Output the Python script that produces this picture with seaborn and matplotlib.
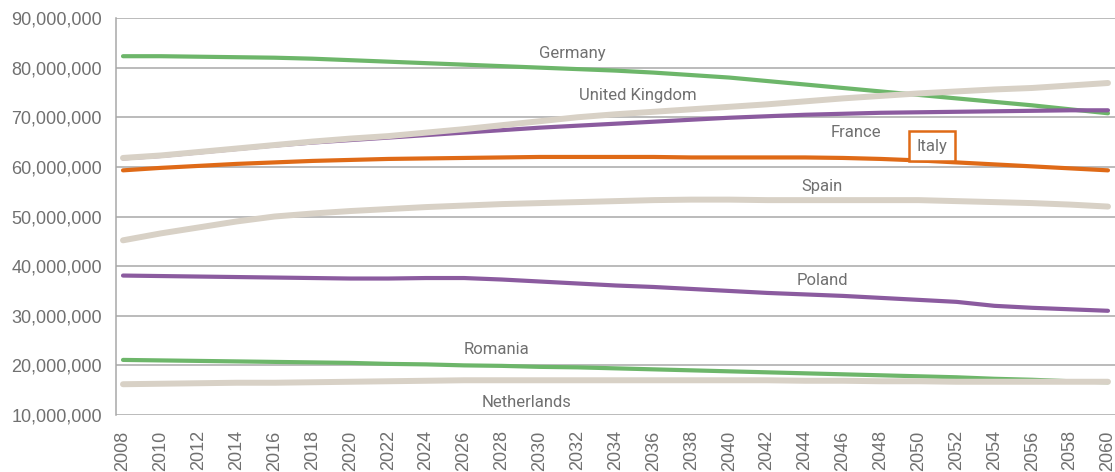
import matplotlib
matplotlib.use("Agg")
import matplotlib.pyplot as plt
import matplotlib.ticker as mticker
from matplotlib import font_manager as fm
import numpy as np
import pandas as pd
import seaborn as sns

# Population projections (millions), every second year 2008-2060
years = list(range(2008, 2061, 2))

germany = [82.3, 82.3, 82.2, 82.1, 82.0, 81.8, 81.5, 81.2, 80.9, 80.6, 80.3, 80.0, 79.7, 79.4,
           79.0, 78.5, 78.0, 77.3, 76.6, 75.9, 75.2, 74.5, 73.8, 73.1, 72.4, 71.6, 70.8]
france = [61.7, 62.2, 62.9, 63.6, 64.3, 64.9, 65.4, 65.9, 66.4, 66.9, 67.4, 67.9, 68.3, 68.7,
          69.1, 69.5, 69.9, 70.2, 70.5, 70.7, 70.9, 71.0, 71.1, 71.2, 71.3, 71.4, 71.4]
italy = [59.3, 59.8, 60.2, 60.6, 60.9, 61.2, 61.4, 61.6, 61.7, 61.8, 61.9, 62.0, 62.0, 62.0,
         62.0, 61.9, 61.9, 61.9, 61.9, 61.8, 61.6, 61.3, 60.9, 60.5, 60.1, 59.7, 59.3]
poland = [38.1, 38.0, 37.9, 37.8, 37.7, 37.6, 37.5, 37.5, 37.6, 37.6, 37.3, 36.9, 36.5, 36.1,
          35.8, 35.4, 35.0, 34.6, 34.3, 34.0, 33.6, 33.2, 32.8, 32.0, 31.6, 31.3, 31.0]
romania = [21.1, 21.0, 20.9, 20.8, 20.7, 20.6, 20.5, 20.3, 20.2, 20.0, 19.9, 19.7, 19.6, 19.4,
           19.2, 19.0, 18.8, 18.6, 18.4, 18.2, 18.0, 17.8, 17.6, 17.3, 17.1, 16.8, 16.6]
united_kingdom = [61.8, 62.3, 63.0, 63.7, 64.4, 65.1, 65.7, 66.2, 66.9, 67.6, 68.4, 69.2, 70.0, 70.6,
                  71.1, 71.6, 72.1, 72.6, 73.2, 73.8, 74.3, 74.8, 75.2, 75.6, 75.9, 76.4, 76.9]
spain = [45.2, 46.6, 47.8, 49.0, 50.0, 50.6, 51.1, 51.5, 51.9, 52.2, 52.5, 52.7, 52.9, 53.1,
         53.3, 53.4, 53.4, 53.3, 53.3, 53.3, 53.3, 53.3, 53.1, 52.9, 52.7, 52.4, 52.0]
netherlands = [16.2, 16.3, 16.4, 16.5, 16.5, 16.6, 16.7, 16.8, 16.9, 17.0, 17.0, 17.0, 17.0, 17.0,
               17.0, 17.0, 17.0, 17.0, 16.9, 16.9, 16.8, 16.8, 16.7, 16.7, 16.7, 16.7, 16.7]

countries = ["Germany", "France", "Italy", "Poland", "Romania",
             "United Kingdom", "Spain", "Netherlands"]
series = [germany, france, italy, poland, romania, united_kingdom, spain, netherlands]

GREEN = "#6db66a"
PURPLE = "#8b5b9f"
ORANGE = "#df6a17"
BEIGE = "#d8d1c6"
palette = {"Germany": GREEN, "France": PURPLE, "Italy": ORANGE, "Poland": PURPLE,
           "Romania": GREEN, "United Kingdom": BEIGE, "Spain": BEIGE, "Netherlands": BEIGE}
widths = {GREEN: 3.0, PURPLE: 3.0, ORANGE: 3.0, BEIGE: 4.3}

df = pd.DataFrame({
    "year": np.tile(years, len(countries)),
    "country": np.repeat(countries, len(years)),
    "population": np.concatenate([np.array(s) * 1e6 for s in series]),
})

sns.set_theme(style="white")
available = {f.name for f in fm.fontManager.ttflist}
tick_font = "Liberation Sans" if "Liberation Sans" in available else "DejaVu Sans"
label_font = next((f for f in ["Liberation Sans Narrow", "Roboto", "Noto Sans"] if f in available),
                  "DejaVu Sans")
plt.rcParams["font.family"] = [tick_font, "DejaVu Sans"]

TEXT = "#707070"
GRID = "#a8a8a8"

fig = plt.figure(figsize=(11.15, 4.72), dpi=100)
ax = fig.add_axes([116 / 1115, 1 - 415 / 472, 1 - 116 / 1115, (415 - 18) / 472])

for c in countries:
    sub = df[df["country"] == c]
    sns.lineplot(data=sub, x="year", y="population", ax=ax, color=palette[c],
                 linewidth=widths[palette[c]], legend=False, solid_capstyle="round")

ax.set_xlim(2007.63, 2060.37)
ax.set_ylim(10e6, 90e6)
ax.set_xticks(years)
ax.set_xticklabels([str(y) for y in years], rotation=90)
ax.yaxis.set_major_locator(mticker.MultipleLocator(10e6))
ax.yaxis.set_major_formatter(mticker.FuncFormatter(lambda v, p: f"{int(round(v)):,}"))
ax.set_xlabel("")
ax.set_ylabel("")

ax.grid(axis="y", color=GRID, linewidth=1.1)
ax.set_axisbelow(True)
for s in ["top", "right", "bottom"]:
    ax.spines[s].set_visible(False)
ax.spines["left"].set_color(GRID)
ax.spines["left"].set_linewidth(1.1)
ax.tick_params(axis="both", length=0, colors=TEXT, labelsize=13)
ax.tick_params(axis="y", pad=10)
ax.tick_params(axis="x", pad=11)

# Series labels placed beside their lines
labels = [
    ("Germany", 2031.7, 82.9e6),
    ("United Kingdom", 2035.2, 74.3e6),
    ("France", 2046.7, 67.0e6),
    ("Spain", 2044.9, 56.0e6),
    ("Poland", 2044.9, 37.2e6),
    ("Romania", 2027.7, 23.1e6),
    ("Netherlands", 2029.3, 12.6e6),
]
for name, x, y in labels:
    ax.text(x, y, name, ha="center", va="center", fontsize=12, color=TEXT,
            family=[label_font, "DejaVu Sans"])

ax.text(2050.7, 64.2e6, "Italy", ha="center", va="center", fontsize=12, color=TEXT,
        family=[label_font, "DejaVu Sans"],
        bbox=dict(boxstyle="square,pad=0.45", facecolor="white", edgecolor=ORANGE, linewidth=1.8))

fig.savefig("out.png", dpi=100)
